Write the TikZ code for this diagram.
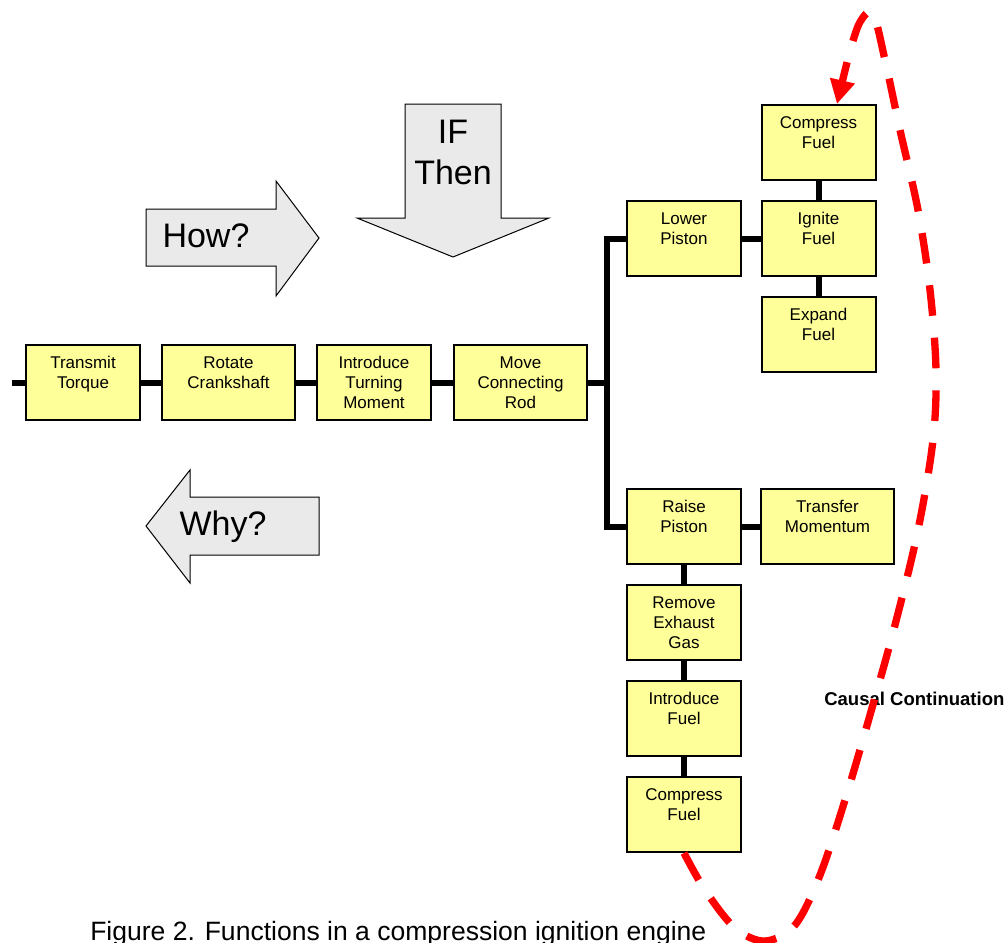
\documentclass[tikz,border=0pt]{standalone}
\usepackage{fontspec}
\setmainfont{Liberation Sans}
\usetikzlibrary{arrows.meta,calc}
\definecolor{boxfill}{HTML}{FFFF99}
\definecolor{arrowfill}{HTML}{EAEAEA}
\definecolor{causalred}{HTML}{FF0000}
\newcommand\bstrut{\rule[-2.9pt]{0pt}{15pt}}
\begin{document}
\begin{tikzpicture}[x=0.75pt,y=-0.75pt,
  fnbox/.style={draw=black, line width=1.5pt, fill=boxfill, minimum width=85.5pt, minimum height=56.25pt, inner sep=0pt, align=center, font=\fontsize{12.75pt}{15pt}\selectfont},
  wnbox/.style={fnbox, minimum width=99.75pt},
  link/.style={draw=black, line width=4.5pt, line join=miter},
  block/.style={draw=black, line width=0.75pt, fill=arrowfill, line join=miter},
  bigtext/.style={font=\fontsize{25.5pt}{30.75pt}\selectfont, align=center, inner sep=0pt},
  causal/.style={draw=causalred, line width=5.5pt, dash pattern=on 23pt off 16.5pt, -{Triangle[width=18pt,length=18pt]}, fill=none}
]
\useasboundingbox (0,0) rectangle (1006,942);

% block arrows
\draw[block] (146,209) -- (276,209) -- (276,181) -- (319,238) -- (276,296) -- (276,266) -- (146,266) -- cycle;
\node[bigtext, anchor=base] (how) at (206,247) {How?};
\draw[block] (405,104) -- (501,104) -- (501,218) -- (549,218) -- (453,257) -- (357,218) -- (405,218) -- cycle;
\node[bigtext] (ifthen) at (453,152) {IF\\Then};
\draw[block] (319,497) -- (190,497) -- (190,470) -- (146,526) -- (190,583) -- (190,555) -- (319,555) -- cycle;
\node[bigtext, anchor=base] (why) at (223,535) {Why?};

% boxes
\node[fnbox] (tt) at (83,382.5) {\bstrut Transmit\\Torque\\\bstrut};
\node[wnbox] (rc) at (228.5,382.5) {\bstrut Rotate\\Crankshaft\\\bstrut};
\node[fnbox] (itm) at (374,382.5) {\bstrut Introduce\\Turning\\Moment\bstrut};
\node[wnbox] (mcr) at (520.5,382.5) {\bstrut Move\\Connecting\\Rod\bstrut};
\node[fnbox] (lp) at (684,238.5) {\bstrut Lower\\Piston\\\bstrut};
\node[fnbox] (rp) at (684,526.5) {\bstrut Raise\\Piston\\\bstrut};
\node[fnbox] (cf1) at (818.5,142.5) {\bstrut Compress\\Fuel\\\bstrut};
\node[fnbox] (ig) at (818.5,238.5) {\bstrut Ignite\\Fuel\\\bstrut};
\node[fnbox] (ef) at (818.5,334.5) {\bstrut Expand\\Fuel\\\bstrut};
\node[wnbox] (tm) at (827.5,526.5) {\bstrut Transfer\\Momentum\\\bstrut};
\node[fnbox] (reg) at (684,622.5) {\bstrut Remove\\Exhaust\\Gas\bstrut};
\node[fnbox] (inf) at (684,718.5) {\bstrut Introduce\\Fuel\\\bstrut};
\node[fnbox] (cf2) at (684,814.5) {\bstrut Compress\\Fuel\\\bstrut};

% connectors
\coordinate (lstub) at (12,382.5);
\coordinate (junc) at (607,382.5);
\draw[link] (lstub) -- (tt.west);
\draw[link] (tt.east) -- (rc.west);
\draw[link] (rc.east) -- (itm.west);
\draw[link] (itm.east) -- (mcr.west);
\draw[link] (mcr.east) -- (junc);
\draw[link] (lp.west) -| (junc) |- (rp.west);
\draw[link] (lp.east) -- (ig.west);
\draw[link] (cf1.south) -- (ig.north);
\draw[link] (ig.south) -- (ef.north);
\draw[link] (rp.east) -- (tm.west);
\draw[link] (rp.south) -- (reg.north);
\draw[link] (reg.south) -- (inf.north);
\draw[link] (inf.south) -- (cf2.north);

% texts
\node[anchor=base west, inner sep=0pt, font=\fontsize{13.9pt}{16pt}\selectfont\bfseries] (cc) at (824,705) {Causal Continuation};
\node[anchor=base west, inner sep=0pt, font=\fontsize{19.9pt}{23pt}\selectfont] (cap) at (90,940) {Figure 2. Functions in a compression ignition engine};

% causal continuation curve
\draw[causal] plot[smooth, tension=0.55] coordinates {(cf2.south) (705,890) (735,928) (765,941) (795,925) (820,875) (845,800) (870,715) (895,625) (918,530) (933,440) (936,370) (930,290) (918,210) (900,130) (885,60) (873,14) (860,22) (849,55) ($(cf1.north)+(18.5,0)$)};
\end{tikzpicture}
\end{document}
